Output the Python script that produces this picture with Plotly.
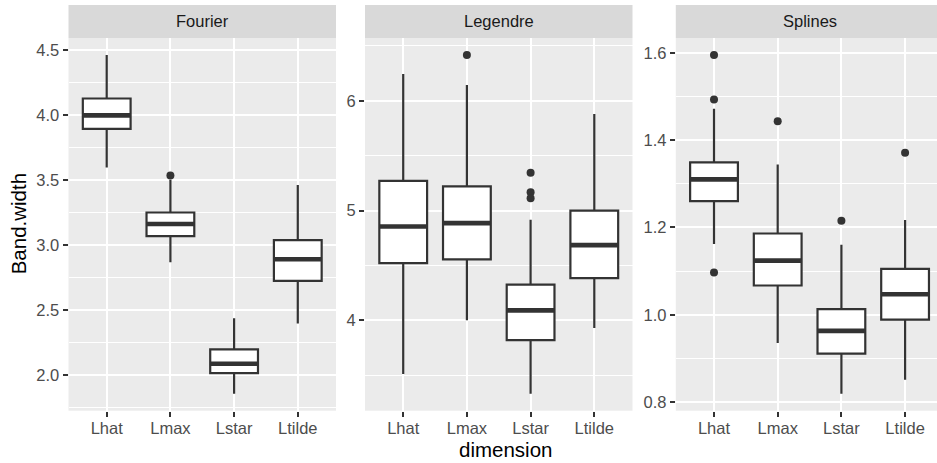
import plotly.graph_objects as go

# ---------------- data ----------------
categories = ["Lhat", "Lmax", "Lstar", "Ltilde"]
facets = ["Fourier", "Legendre", "Splines"]

fourier_lower = [3.595, 2.865, 1.854, 2.395]
fourier_q1 = [3.892, 3.067, 2.012, 2.723]
fourier_median = [3.995, 3.160, 2.085, 2.888]
fourier_q3 = [4.125, 3.248, 2.195, 3.036]
fourier_upper = [4.460, 3.500, 2.434, 3.460]
fourier_outliers = {"Lmax": [3.533]}

legendre_lower = [3.51, 4.00, 3.33, 3.93]
legendre_q1 = [4.520, 4.555, 3.818, 4.384]
legendre_median = [4.855, 4.885, 4.090, 4.685]
legendre_q3 = [5.270, 5.220, 4.325, 5.000]
legendre_upper = [6.245, 6.143, 4.915, 5.879]
legendre_outliers = {"Lmax": [6.418], "Lstar": [5.345, 5.167, 5.113]}

splines_lower = [1.162, 0.935, 0.819, 0.851]
splines_q1 = [1.260, 1.067, 0.911, 0.989]
splines_median = [1.310, 1.124, 0.963, 1.047]
splines_q3 = [1.349, 1.186, 1.013, 1.105]
splines_upper = [1.472, 1.344, 1.160, 1.217]
splines_outliers = {"Lhat": [1.595, 1.493, 1.097], "Lmax": [1.443],
                    "Lstar": [1.215], "Ltilde": [1.371]}

y_major = [0.5, 1.0, 0.2]

panels = [
    (fourier_lower, fourier_q1, fourier_median, fourier_q3, fourier_upper, fourier_outliers),
    (legendre_lower, legendre_q1, legendre_median, legendre_q3, legendre_upper, legendre_outliers),
    (splines_lower, splines_q1, splines_median, splines_q3, splines_upper, splines_outliers),
]

# ---------------- layout geometry (pixels) ----------------
W, H = 937, 463
panel_left = [68.5, 365.0, 675.8]
panel_w = 267.5
panel_top, panel_bottom = 38.0, 410.7
strip_top = 5.0

def px_x(p):
    return p / W

def px_y(p):
    return (H - p) / H

FONT = "Liberation Sans, Arial, Helvetica, sans-serif"
DARK = "#333333"
BOX_W = 0.75

fig = go.Figure()
layout = dict(
    width=W, height=H,
    margin=dict(l=0, r=0, t=0, b=0),
    paper_bgcolor="white",
    plot_bgcolor="#EBEBEB",
    showlegend=False,
    font=dict(family=FONT, color="#4D4D4D"),
    shapes=[], annotations=[],
)

for i, (lo, q1, med, q3, up, outl) in enumerate(panels):
    xa = "x" if i == 0 else f"x{i+1}"
    ya = "y" if i == 0 else f"y{i+1}"
    xs = list(range(len(categories)))

    fig.add_trace(go.Box(
        x=xs, q1=q1, median=med, q3=q3, lowerfence=lo, upperfence=up,
        width=BOX_W, whiskerwidth=0, boxpoints=False,
        fillcolor="white", line=dict(color=DARK, width=2.2),
        xaxis=xa, yaxis=ya, hoverinfo="skip",
    ))
    # thick median segments (ggplot fatten)
    mx, my = [], []
    for k, m in enumerate(med):
        mx += [k - BOX_W / 2, k + BOX_W / 2, None]
        my += [m, m, None]
    fig.add_trace(go.Scatter(x=mx, y=my, mode="lines",
                             line=dict(color=DARK, width=4.6),
                             xaxis=xa, yaxis=ya, hoverinfo="skip"))
    # outliers
    ox, oy = [], []
    for cat, vals in outl.items():
        for v in vals:
            ox.append(categories.index(cat))
            oy.append(v)
    fig.add_trace(go.Scatter(x=ox, y=oy, mode="markers",
                             marker=dict(color=DARK, size=8),
                             xaxis=xa, yaxis=ya, hoverinfo="skip"))

    # data range with 5% expansion (ggplot default)
    allv = lo + up + [v for vals in outl.values() for v in vals]
    vmin, vmax = min(allv), max(allv)
    pad = 0.05 * (vmax - vmin)

    left = panel_left[i]
    right_px = min(W, left + panel_w)
    dom = [px_x(left), min(1.0, px_x(right_px))]
    xr = [-0.6, -0.6 + 4.2 * (right_px - left) / panel_w]

    axkey = "xaxis" if i == 0 else f"xaxis{i+1}"
    aykey = "yaxis" if i == 0 else f"yaxis{i+1}"
    layout[axkey] = dict(
        domain=dom, range=xr, anchor=ya, automargin=False,
        tickmode="array", tickvals=xs, ticktext=categories,
        showgrid=True, gridcolor="white", gridwidth=2.4,
        zeroline=False, showline=False,
        ticks="outside", ticklen=5, tickwidth=2, tickcolor=DARK,
        ticklabelstandoff=-3,
        tickfont=dict(size=16.5, color="#4D4D4D", family=FONT),
    )
    layout[aykey] = dict(
        domain=[px_y(panel_bottom), px_y(panel_top)],
        range=[vmin - pad, vmax + pad], anchor=xa, automargin=False,
        tickmode="linear", tick0=0, dtick=y_major[i],
        tickformat=".1f" if i != 1 else "d",
        showgrid=True, gridcolor="white", gridwidth=2.4,
        minor=dict(dtick=y_major[i] / 2, tick0=0, showgrid=True,
                   gridcolor="white", gridwidth=1.2, ticks=""),
        zeroline=False, showline=False,
        ticks="outside", ticklen=5, tickwidth=2, tickcolor=DARK,
        tickfont=dict(size=16.5, color="#4D4D4D", family=FONT),
    )

    # facet strip
    layout["shapes"].append(dict(
        type="rect", xref="paper", yref="paper",
        x0=dom[0], x1=dom[1], y0=px_y(panel_top), y1=px_y(strip_top),
        fillcolor="#D9D9D9", line=dict(width=0), layer="below",
    ))
    layout["annotations"].append(dict(
        text=facets[i], xref="paper", yref="paper",
        x=px_x(left + panel_w / 2), y=px_y((strip_top + panel_top) / 2),
        xanchor="center", yanchor="middle", showarrow=False,
        font=dict(size=16.5, color="#1A1A1A", family=FONT),
    ))

# axis titles
layout["annotations"].append(dict(
    text="Band.width", xref="paper", yref="paper",
    x=px_x(18), y=px_y((panel_top + panel_bottom) / 2),
    xanchor="center", yanchor="middle", textangle=-90, showarrow=False,
    font=dict(size=20.5, color="black", family=FONT),
))
layout["annotations"].append(dict(
    text="dimension", xref="paper", yref="paper",
    x=px_x((panel_left[0] + panel_left[2] + panel_w) / 2), y=px_y(449),
    xanchor="center", yanchor="middle", showarrow=False,
    font=dict(size=20.5, color="black", family=FONT),
))

fig.update_layout(**layout)
fig.write_html(
    "out.html",
    config={"displayModeBar": False},
    post_script="document.body.style.margin='0px';document.body.style.overflow='hidden';",
)
